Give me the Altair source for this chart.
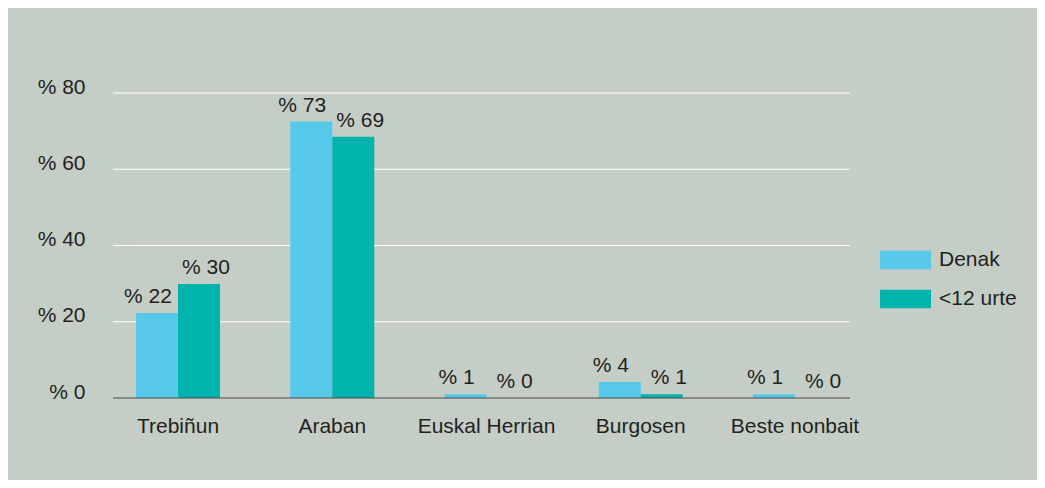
import altair as alt
import pandas as pd

categories = ["Trebiñun", "Araban", "Euskal Herrian", "Burgosen", "Beste nonbait"]
series_names = ["Denak", "<12 urte"]
denak = [22.3, 72.5, 1.0, 4.2, 1.0]
urte12 = [29.9, 68.5, 0.0, 1.0, 0.0]
y_ticks = [0, 20, 40, 60, 80]

rows = []
for c, a, b in zip(categories, denak, urte12):
    rows.append({"cat": c, "series": series_names[0], "value": a})
    rows.append({"cat": c, "series": series_names[1], "value": b})
df = pd.DataFrame(rows)

BG = "#c4cec6"
TXT = "#231f20"
FONT = "Liberation Sans"
FS = 21
colors = ["#56c9ea", "#00b3ac"]

x_enc = alt.X(
    "cat:N",
    sort=categories,
    scale=alt.Scale(range=[-12.1, 759.1], paddingInner=0.4554, paddingOuter=0.2277),
    axis=alt.Axis(
        title=None, labelAngle=0, ticks=False, tickSize=0, domain=False,
        labelFont=FONT, labelFontSize=FS, labelColor=TXT,
        labelBaseline="alphabetic", labelPadding=34, grid=False,
    ),
)
y_enc = alt.Y(
    "value:Q",
    scale=alt.Scale(domain=[0, 80], nice=False, zero=True),
    axis=alt.Axis(
        title=None, values=y_ticks, labelExpr="'% ' + datum.value",
        ticks=False, tickSize=0, domain=False, grid=False,
        labelFont=FONT, labelFontSize=FS, labelColor=TXT,
        labelBaseline="alphabetic", labelPadding=28,
    ),
)

grid = alt.Chart(pd.DataFrame({"value": y_ticks[1:]})).mark_rule(
    color="white", strokeWidth=1
).encode(y=alt.Y("value:Q"))

base = alt.Chart(df)

bars = base.mark_bar().encode(
    x=x_enc,
    y=y_enc,
    xOffset=alt.XOffset("series:N", sort=series_names,
                        scale=alt.Scale(paddingInner=0, paddingOuter=0)),
    color=alt.Color(
        "series:N",
        sort=series_names,
        scale=alt.Scale(domain=series_names, range=colors),
        legend=alt.Legend(
            title=None, orient="none", legendX=767, legendY=141.5,
            symbolType="M-1,-0.36H1V0.36H-1Z", symbolSize=2601,
            symbolStrokeWidth=0, symbolOpacity=1,
            labelFont=FONT, labelFontSize=FS, labelColor=TXT,
            labelOffset=8, rowPadding=3, padding=0,
        ),
    ),
)

def labels(name, dx):
    return base.transform_filter(alt.datum.series == name).transform_calculate(
        label="'% ' + format(datum.value, '.0f')"
    ).mark_text(
        font=FONT, fontSize=FS, color=TXT, baseline="alphabetic", dy=-10, dx=dx
    ).encode(
        x=alt.X("cat:N", sort=categories),
        y=alt.Y("value:Q"),
        xOffset=alt.XOffset("series:N", sort=series_names),
        text="label:N",
    )

baseline = alt.Chart(pd.DataFrame({"v": [0]})).mark_rule(
    color="#4a4a4a", strokeWidth=1
).encode(y=alt.Y("v:Q"))

chart = alt.layer(
    grid, bars, labels("Denak", -9), labels("<12 urte", 7), baseline
).resolve_scale(
    x="shared", y="shared"
).properties(
    width=737,
    height=305,
    background=BG,
    padding={"left": 105, "top": 85, "right": 187, "bottom": 82},
    autosize=alt.AutoSizeParams(type="none"),
).configure_view(stroke=None)

chart.save("out.html", embed_options={"renderer": "svg", "actions": False})
